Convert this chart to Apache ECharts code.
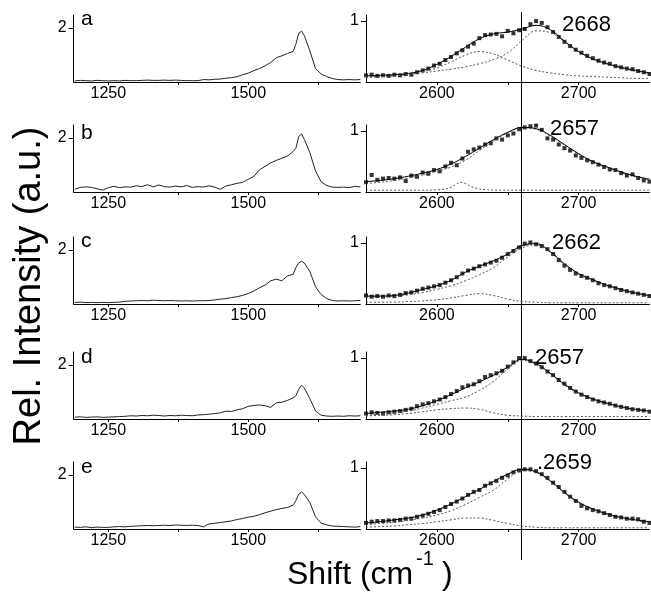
<!DOCTYPE html>
<html><head><meta charset="utf-8">
<script src="https://cdn.jsdelivr.net/npm/echarts@6/dist/echarts.min.js"></script>
<style>html,body{margin:0;padding:0;background:#fff}#c{width:651px;height:593px}</style>
</head><body><div id="c"></div>
<script>
// ---------- DATA ----------
const panelLetters = ['a','b','c','d','e'];
const peakLabels = ['2668','2657','2662','2657','.2659'];
const markerShift = 2659;

const leftTickValues = [1250,1375,1500,1625];
const leftLabelValues = [1250,1500];
const rightTickValues = [2600,2650,2700];
const rightLabelValues = [2600,2700];

const leftShift = [1190,1200,1210,1220,1230,1240,1250,1260,1270,1280,1290,1300,1310,1320,1330,1340,1350,1360,1370,1380,1390,1400,1410,1420,1430,1440,1450,1460,1470,1480,1490,1500,1510,1520,1530,1540,1550,1560,1570,1580,1585,1590,1595,1600,1610,1620,1630,1640,1650,1660,1670,1680,1690,1700];

const specA = [0.04,0.06,0.05,0.04,0.06,0.05,0.04,0.05,0.04,0.06,0.05,0.05,0.06,0.07,0.06,0.06,0.07,0.06,0.07,0.06,0.05,0.05,0.05,0.09,0.08,0.10,0.11,0.14,0.16,0.20,0.27,0.33,0.42,0.50,0.60,0.72,0.90,0.97,1.06,1.13,1.40,1.80,1.88,1.72,1.15,0.50,0.30,0.20,0.13,0.09,0.08,0.09,0.08,0.09];
const specB = [0.10,0.17,0.19,0.17,0.12,0.07,0.16,0.21,0.16,0.19,0.18,0.23,0.20,0.27,0.19,0.26,0.20,0.18,0.22,0.19,0.24,0.17,0.20,0.18,0.23,0.18,0.10,0.22,0.27,0.32,0.36,0.47,0.58,0.82,0.95,1.08,1.17,1.25,1.33,1.50,1.62,2.05,2.15,1.95,1.45,0.78,0.38,0.24,0.18,0.17,0.18,0.16,0.21,0.19];
const specC = [0.06,0.07,0.05,0.06,0.05,0.06,0.05,0.06,0.07,0.10,0.11,0.12,0.13,0.12,0.14,0.13,0.12,0.13,0.12,0.11,0.12,0.11,0.12,0.12,0.13,0.15,0.18,0.20,0.24,0.27,0.32,0.39,0.48,0.60,0.70,0.86,0.92,0.86,1.04,1.10,1.35,1.52,1.58,1.52,1.20,0.64,0.35,0.20,0.13,0.11,0.12,0.11,0.12,0.13];
const specD = [0.07,0.08,0.06,0.07,0.08,0.06,0.07,0.08,0.09,0.10,0.12,0.11,0.13,0.12,0.14,0.13,0.11,0.13,0.12,0.14,0.13,0.12,0.15,0.16,0.18,0.20,0.23,0.29,0.28,0.34,0.38,0.47,0.50,0.52,0.49,0.43,0.60,0.62,0.69,0.78,0.86,1.10,1.25,1.15,0.75,0.30,0.14,0.11,0.10,0.11,0.10,0.12,0.11,0.12];
const specE = [0.07,0.06,0.08,0.05,0.07,0.06,0.06,0.08,0.09,0.08,0.10,0.11,0.12,0.13,0.12,0.13,0.14,0.13,0.15,0.14,0.13,0.14,0.13,0.08,0.19,0.21,0.24,0.27,0.30,0.35,0.39,0.44,0.47,0.53,0.60,0.66,0.72,0.76,0.80,0.88,1.05,1.28,1.37,1.28,0.98,0.45,0.22,0.15,0.11,0.10,0.09,0.08,0.07,0.09];

const pointShift = [2550,2554,2558,2562,2566,2570,2574,2578,2582,2586,2590,2594,2598,2602,2606,2610,2614,2618,2622,2626,2630,2634,2638,2642,2646,2650,2654,2658,2662,2666,2670,2674,2678,2682,2686,2690,2694,2698,2702,2706,2710,2714,2718,2722,2726,2730,2734,2738,2742,2746,2750];

const pointsA = [0.11,0.12,0.10,0.11,0.10,0.12,0.11,0.13,0.12,0.16,0.19,0.22,0.27,0.30,0.36,0.41,0.47,0.52,0.58,0.63,0.72,0.77,0.78,0.79,0.75,0.84,0.80,0.85,0.87,0.95,1.00,0.97,0.90,0.82,0.74,0.66,0.59,0.53,0.48,0.43,0.39,0.35,0.32,0.30,0.26,0.24,0.22,0.21,0.18,0.16,0.13];
const pointsB = [0.16,0.28,0.20,0.22,0.23,0.22,0.24,0.18,0.27,0.25,0.32,0.30,0.36,0.34,0.42,0.48,0.44,0.55,0.66,0.70,0.73,0.78,0.80,0.88,0.86,0.93,0.96,1.03,1.06,1.08,1.09,1.02,0.88,0.86,0.78,0.72,0.68,0.60,0.56,0.52,0.49,0.45,0.41,0.37,0.36,0.31,0.27,0.29,0.23,0.19,0.17];
const pointsC = [0.14,0.12,0.13,0.12,0.14,0.13,0.15,0.18,0.19,0.22,0.25,0.27,0.29,0.31,0.35,0.39,0.44,0.50,0.55,0.58,0.62,0.65,0.68,0.71,0.76,0.82,0.87,0.93,0.99,1.01,0.98,0.95,0.90,0.82,0.72,0.63,0.56,0.50,0.46,0.43,0.39,0.34,0.31,0.29,0.26,0.23,0.21,0.19,0.17,0.15,0.13];
const pointsD = [0.09,0.11,0.10,0.09,0.11,0.12,0.13,0.15,0.17,0.21,0.24,0.26,0.29,0.32,0.36,0.41,0.46,0.52,0.55,0.57,0.62,0.69,0.72,0.75,0.79,0.86,0.93,1.00,1.00,0.95,0.91,0.85,0.78,0.72,0.64,0.58,0.51,0.45,0.40,0.36,0.32,0.29,0.27,0.25,0.22,0.20,0.18,0.16,0.15,0.14,0.12];
const pointsE = [0.10,0.12,0.13,0.13,0.14,0.14,0.15,0.17,0.17,0.20,0.22,0.25,0.28,0.31,0.36,0.41,0.45,0.50,0.56,0.61,0.64,0.71,0.75,0.79,0.84,0.88,0.93,0.96,0.98,0.98,0.95,0.90,0.84,0.76,0.69,0.61,0.53,0.46,0.38,0.34,0.31,0.29,0.26,0.23,0.20,0.19,0.17,0.17,0.16,0.12,0.10];

const fitShift = [2550,2560,2570,2580,2590,2600,2610,2620,2630,2640,2650,2660,2670,2680,2690,2700,2710,2720,2730,2740,2750];

const fitA   = [0.10,0.11,0.12,0.14,0.19,0.29,0.42,0.57,0.71,0.79,0.82,0.87,0.93,0.86,0.67,0.50,0.38,0.30,0.24,0.19,0.15];
const compA1 = [0.08,0.09,0.10,0.13,0.17,0.23,0.33,0.44,0.50,0.46,0.36,0.26,0.19,0.15,0.12,0.10,0.09,0.08,0.07,0.06,0.06];
const compA2 = [0.08,0.09,0.11,0.13,0.15,0.18,0.21,0.25,0.30,0.37,0.48,0.68,0.84,0.81,0.66,0.50,0.38,0.30,0.23,0.18,0.14];

const fitB   = [0.17,0.19,0.22,0.26,0.31,0.37,0.46,0.58,0.72,0.86,0.98,1.06,1.04,0.93,0.78,0.63,0.50,0.41,0.33,0.26,0.21];
const compB1Shift = [2550,2570,2590,2600,2606,2610,2614,2617,2620,2624,2628,2634,2645,2670,2710,2750];
const compB1 = [0.03,0.03,0.03,0.035,0.05,0.08,0.13,0.16,0.14,0.09,0.06,0.04,0.03,0.03,0.03,0.03];
const compB2 = [0.14,0.16,0.19,0.23,0.28,0.34,0.41,0.52,0.68,0.84,0.97,1.05,1.03,0.92,0.77,0.62,0.49,0.40,0.32,0.25,0.20];

const fitC   = [0.13,0.13,0.14,0.18,0.24,0.30,0.39,0.52,0.62,0.71,0.82,0.96,0.99,0.86,0.66,0.50,0.40,0.31,0.24,0.18,0.14];
const compC1 = [0.03,0.03,0.03,0.04,0.05,0.07,0.10,0.14,0.17,0.14,0.08,0.04,0.03,0.02,0.02,0.02,0.02,0.02,0.02,0.02,0.02];
const compC2 = [0.12,0.12,0.13,0.15,0.19,0.24,0.30,0.38,0.48,0.60,0.77,0.92,0.97,0.85,0.65,0.49,0.39,0.30,0.23,0.18,0.13];

const fitD   = [0.09,0.11,0.13,0.16,0.22,0.30,0.40,0.51,0.61,0.72,0.85,0.98,0.91,0.75,0.57,0.43,0.33,0.26,0.20,0.16,0.13];
const compD1 = [0.05,0.06,0.07,0.09,0.12,0.15,0.17,0.18,0.16,0.10,0.06,0.05,0.04,0.04,0.04,0.04,0.04,0.04,0.04,0.04,0.04];
const compD2 = [0.06,0.08,0.10,0.13,0.18,0.24,0.30,0.36,0.47,0.62,0.82,0.96,0.90,0.74,0.56,0.42,0.32,0.25,0.19,0.15,0.12];

const fitE   = [0.10,0.12,0.15,0.18,0.23,0.31,0.41,0.53,0.65,0.78,0.90,0.98,0.94,0.79,0.60,0.44,0.33,0.25,0.19,0.15,0.12];
const compE1 = [0.03,0.04,0.05,0.07,0.09,0.12,0.15,0.18,0.18,0.14,0.09,0.05,0.03,0.02,0.02,0.02,0.02,0.02,0.02,0.02,0.02];
const compE2 = [0.07,0.09,0.11,0.14,0.18,0.23,0.30,0.40,0.52,0.64,0.82,0.96,0.93,0.78,0.59,0.43,0.32,0.24,0.18,0.14,0.11];

// ---------- BUILD ----------
const spectra = [specA,specB,specC,specD,specE];
const points = [pointsA,pointsB,pointsC,pointsD,pointsE];
const fits = [fitA,fitB,fitC,fitD,fitE];
const comp1 = [[fitShift,compA1],[compB1Shift,compB1],[fitShift,compC1],[fitShift,compD1],[fitShift,compE1]];
const comp2 = [compA2,compB2,compC2,compD2,compE2];

const FONT = '"Liberation Sans", Arial, Helvetica, sans-serif';
const zip = (xs, ys) => xs.map((x, i) => [x, ys[i]]);
const rowBottom = [82, 192, 304, 419, 529];
const H = 67;
const chart = echarts.init(document.getElementById('c'));

const grids = [], xAxes = [], yAxes = [], series = [];
const axLine = {show: true, onZero: false, lineStyle: {color: '#000', width: 1}};
const lbl = (vals, margin) => ({customValues: vals, color: '#000', fontSize: 16, fontFamily: FONT, margin: margin,
  formatter: v => String(v)});

for (let i = 0; i < 5; i++) {
  grids.push({left: 73.6, top: rowBottom[i] - H, width: 286.7, height: H});
  xAxes.push({type: 'value', gridIndex: i, min: 1188, max: 1700, axisLine: axLine,
    axisTick: {show: true, customValues: leftTickValues, length: 3, lineStyle: {color: '#000'}},
    axisLabel: lbl(leftLabelValues, 4), splitLine: {show: false}});
  yAxes.push({type: 'value', gridIndex: i, min: 0, max: 2.48, axisLine: axLine,
    axisTick: {show: true, customValues: [2], length: 5, lineStyle: {color: '#000'}},
    axisLabel: lbl([2], 7), splitLine: {show: false}});
  series.push({type: 'line', xAxisIndex: i, yAxisIndex: i, data: zip(leftShift, spectra[i]),
    showSymbol: false, silent: true, lineStyle: {color: '#222', width: 1}});
}
for (let i = 0; i < 5; i++) {
  const k = 5 + i;
  grids.push({left: 366, top: rowBottom[i] - H, width: 283.5, height: H});
  xAxes.push({type: 'value', gridIndex: k, min: 2550, max: 2750, axisLine: axLine,
    axisTick: {show: true, customValues: rightTickValues, length: 3, lineStyle: {color: '#000'}},
    axisLabel: lbl(rightLabelValues, 4), splitLine: {show: false}});
  yAxes.push({type: 'value', gridIndex: k, min: 0, max: 1.1, axisLine: axLine,
    axisTick: {show: true, customValues: [1], length: 5, lineStyle: {color: '#000'}},
    axisLabel: lbl([1], 7), splitLine: {show: false}});
  series.push({type: 'line', xAxisIndex: k, yAxisIndex: k, data: zip(comp1[i][0], comp1[i][1]),
    smooth: 0.4, showSymbol: false, silent: true, lineStyle: {color: '#555', width: 1, type: [2, 2]}});
  series.push({type: 'line', xAxisIndex: k, yAxisIndex: k, data: zip(fitShift, comp2[i]),
    smooth: 0.4, showSymbol: false, silent: true, lineStyle: {color: '#555', width: 1, type: [2, 2]}});
  series.push({type: 'line', xAxisIndex: k, yAxisIndex: k, data: zip(fitShift, fits[i]),
    smooth: 0.4, showSymbol: false, silent: true, lineStyle: {color: '#000', width: 1}});
  series.push({type: 'scatter', xAxisIndex: k, yAxisIndex: k, data: zip(pointShift, points[i]),
    symbol: 'rect', symbolSize: 4, silent: true, itemStyle: {color: '#000'}});
}

chart.setOption({animation: false, backgroundColor: '#fff', grid: grids, xAxis: xAxes, yAxis: yAxes, series: series});

// annotations
const lx = Math.round(chart.convertToPixel({xAxisIndex: 5}, markerShift)) + 0.5;
const graphics = [];
graphics.push({type: 'line', silent: true, shape: {x1: lx, y1: 12, x2: lx, y2: 560}, style: {stroke: '#000', lineWidth: 1}});
const letterBase = [30, 144, 252, 368, 478];
const peakMid = [25, 129, 243, 358, 463];
const peakX = [562, 550, 552, 535, 537];
for (let i = 0; i < 5; i++) {
  graphics.push({type: 'text', silent: true, x: 81, y: letterBase[i], style: {text: panelLetters[i], font: '21px ' + FONT, fill: '#000', textAlign: 'left', textVerticalAlign: 'bottom'}});
  graphics.push({type: 'text', silent: true, x: peakX[i], y: peakMid[i], style: {text: peakLabels[i], font: '22px ' + FONT, fill: '#000', textAlign: 'left', textVerticalAlign: 'middle'}});
}
graphics.push({type: 'text', silent: true, x: 30, y: 286, rotation: Math.PI / 2, style: {text: 'Rel. Intensity (a.u.)', font: '38px ' + FONT, fill: '#000', textAlign: 'center', textVerticalAlign: 'middle'}});
graphics.push({type: 'text', silent: true, x: 287, y: 575, style: {text: 'Shift (cm', font: '32px ' + FONT, fill: '#000', textAlign: 'left', textVerticalAlign: 'middle'}});
graphics.push({type: 'text', silent: true, x: 416, y: 559, style: {text: '-1', font: '20px ' + FONT, fill: '#000', textAlign: 'left', textVerticalAlign: 'middle'}});
graphics.push({type: 'text', silent: true, x: 442, y: 575, style: {text: ')', font: '32px ' + FONT, fill: '#000', textAlign: 'left', textVerticalAlign: 'middle'}});
chart.setOption({graphic: graphics});
</script></body></html>
